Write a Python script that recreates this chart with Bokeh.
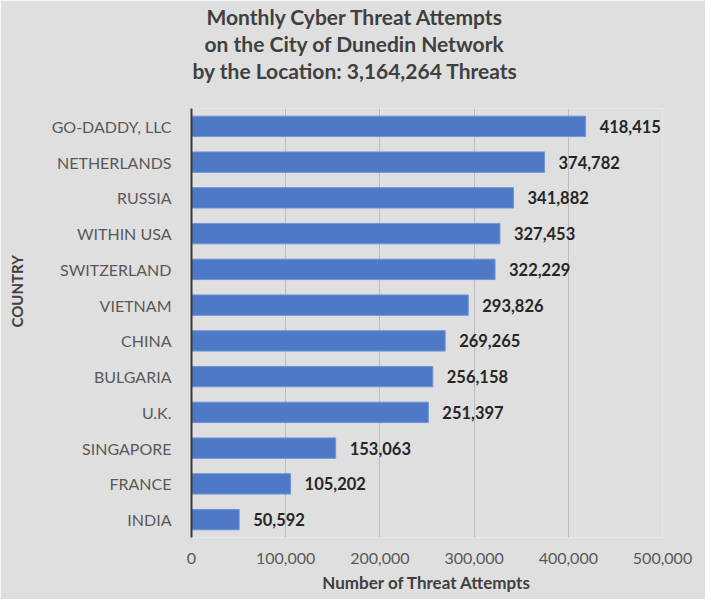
from bokeh.plotting import figure
from bokeh.models import ColumnDataSource, Title, NumeralTickFormatter, FixedTicker
from bokeh.core.properties import value
from bokeh.embed import file_html
from bokeh.resources import INLINE

countries = ["GO-DADDY, LLC", "NETHERLANDS", "RUSSIA", "WITHIN USA", "SWITZERLAND",
             "VIETNAM", "CHINA", "BULGARIA", "U.K.", "SINGAPORE", "FRANCE", "INDIA"]
threats = [418415, 374782, 341882, 327453, 322229, 293826,
           269265, 256158, 251397, 153063, 105202, 50592]
x_ticks = [0, 100000, 200000, 300000, 400000, 500000]
title_lines = ["Monthly Cyber Threat Attempts",
               "on the City of Dunedin Network",
               "by the Location: 3,164,264 Threats"]
title_offsets = [15, 13, 1]

FONT = "Lato"
BG = "#dfdfdf"

labels = [f"{v:,}" for v in threats]
src = ColumnDataSource(dict(country=countries, threats=threats, label=labels))

p = figure(width=705, height=599, output_backend="svg", toolbar_location=None,
           y_range=list(reversed(countries)), x_range=(0, 500000),
           min_border_left=191, min_border_right=43, min_border_top=108,
           min_border_bottom=62)

p.background_fill_color = BG
p.border_fill_color = BG
p.outline_line_color = None

p.hbar(y="country", right="threats", left=0, height=0.57, source=src,
       fill_color="#4d79c7", line_color="#6f95d8", line_width=1)

p.text(x="threats", y="country", text="label", source=src, x_offset=14,
       text_align="left", text_baseline="middle", text_font=value(FONT),
       text_font_style="bold", text_font_size="16.5px", text_color="#262626")

# x axis
p.xaxis.ticker = FixedTicker(ticks=x_ticks)
p.xaxis.formatter = NumeralTickFormatter(format="0,0")
p.xaxis.axis_line_color = None
p.xaxis.major_tick_line_color = None
p.xaxis.minor_tick_line_color = None
p.xaxis.major_tick_out = 0
p.xaxis.major_tick_in = 0
p.xaxis.major_label_text_font = FONT
p.xaxis.major_label_text_font_size = "16px"
p.xaxis.major_label_text_color = "#595959"
p.xaxis.major_label_standoff = 15
p.xaxis.axis_label = "Number of Threat Attempts"
p.xaxis.axis_label_text_font = FONT
p.xaxis.axis_label_text_font_size = "17px"
p.xaxis.axis_label_text_font_style = "bold"
p.xaxis.axis_label_text_color = "#404040"
p.xaxis.axis_label_standoff = 5

# y axis
p.yaxis.axis_line_color = "#3a3a3a"
p.yaxis.axis_line_width = 2
p.yaxis.major_tick_line_color = None
p.yaxis.minor_tick_line_color = None
p.yaxis.major_tick_out = 0
p.yaxis.major_tick_in = 0
p.yaxis.major_label_text_font = FONT
p.yaxis.major_label_text_font_size = "16px"
p.yaxis.major_label_text_color = "#595959"
p.yaxis.major_label_standoff = 20

p.xgrid.grid_line_color = "#bdbdbd"
p.xgrid.grid_line_width = 1
p.ygrid.grid_line_color = None

# title lines, stacked above the frame (first added is closest to the frame)
p.add_layout(Title(text=" ", text_font_size="20px", standoff=0, text_font=FONT), "above")
for line, off in zip(reversed(title_lines), reversed(title_offsets)):
    p.add_layout(Title(text=line, align="left", offset=off, standoff=0, text_font=FONT,
                       text_font_size="21px", text_font_style="bold",
                       text_color="#404040"), "above")

# spacer between the category labels and the axis title, then the title itself
p.add_layout(Title(text=" ", text_font_size="17px", standoff=0, text_font=FONT), "left")
p.add_layout(Title(text="COUNTRY", align="left", offset=210, standoff=0,
                   text_font=FONT, text_font_size="15px", text_font_style="bold",
                   text_color="#404040"), "left")

open("out.html", "w").write(file_html(p, INLINE))
